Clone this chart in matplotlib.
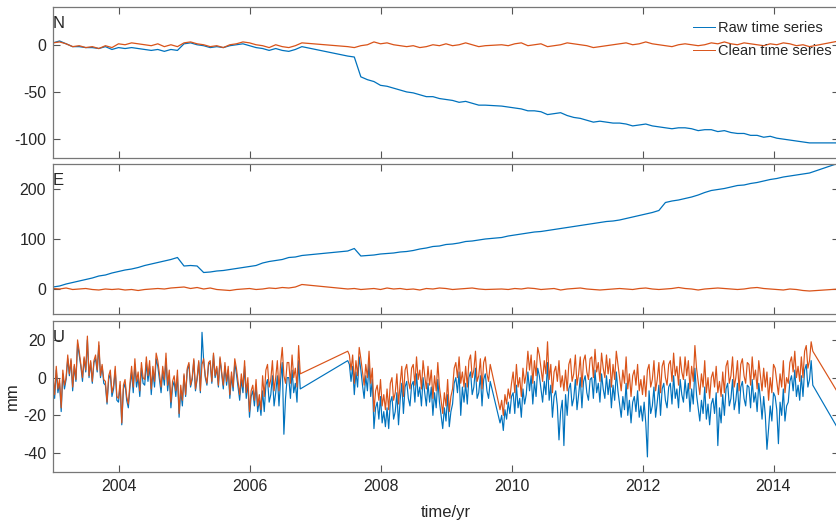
import numpy as np
import matplotlib
matplotlib.use("Agg")
import matplotlib.pyplot as plt

plt.rcParams['font.family'] = ['Liberation Sans', 'DejaVu Sans']
plt.rcParams['axes.unicode_minus'] = False

# observation spans (start, stop, samples); data gaps are bridged by straight lines
ne_segments = [(2003.0, 2006.8, 39), (2007.5, 2009.6, 22), (2009.85, 2014.55, 48)]
u_segments = [(2003.0, 2006.775, 152), (2007.5, 2009.675, 88), (2009.825, 2014.6, 192)]
t_end = 2015.0

# North component (mm)
n_raw = [2, 4, 1, -2, -2, -3, -3, -4, -2, -5,
         -3, -4, -3, -4, -5, -6, -5, -7, -5, -6,
         1, 2, 0, -1, -3, -2, -3, -1, 0, 1,
         -1, -3, -4, -6, -4, -6, -7, -5, -2,
         -12, -13, -34, -37, -39, -43, -44, -46, -48, -50, -51,
         -53, -55, -55, -57, -58, -59, -61, -60, -62, -64, -64,
         -65, -66, -67, -68, -70, -70, -71, -74, -73, -72,
         -75, -77, -78, -80, -82, -81, -82, -83, -83, -84,
         -86, -85, -84, -86, -87, -88, -89, -88, -88, -89,
         -91, -90, -90, -92, -91, -93, -94, -94, -96, -96,
         -98, -97, -99, -100, -101, -102, -103, -104,
         -104]
n_clean = [2, 3, 1, -2, -1, -3, -2, -4, -1, -3,
           1, 0, 2, 1, 0, -1, 1, -2, 0, -2,
           2, 3, 1, 0, -2, -1, -3, 0, 1, 3,
           2, 0, -1, -3, 0, -2, -3, -1, 2,
           -2, -3, -1, 0, 3, 1, 2, 0, -1, -2, -1,
           -3, -2, 0, -1, 1, -1, 0, 2, 0, -2, -1,
           0, -1, 1, 2, -1, 0, 1, -2, -1, 0,
           2, 1, 0, -1, -3, -2, -1, 0, 1, 2,
           0, 1, 3, 1, 0, -1, -2, 0, 1, 0,
           -1, 0, 2, 1, 3, 1, 0, 2, 1, 0,
           -1, 1, 0, 2, 1, -1, 0, -2,
           4]

# East component (mm)
e_raw = [4, 6, 10, 13, 16, 19, 22, 26, 28, 32,
         35, 38, 40, 43, 47, 50, 53, 56, 59, 63,
         46, 47, 46, 33, 34, 36, 37, 39, 41, 43,
         45, 47, 52, 55, 57, 59, 63, 64, 67,
         76, 81, 66, 67, 68, 70, 71, 72, 74, 75, 77,
         80, 82, 85, 86, 89, 90, 92, 95, 96, 98, 100,
         103, 106, 108, 110, 112, 114, 115, 117, 119, 121,
         123, 125, 127, 129, 131, 133, 135, 136, 138, 141,
         144, 147, 150, 153, 157, 173, 176, 178, 181, 184,
         188, 193, 197, 199, 201, 204, 207, 208, 211, 213,
         216, 219, 221, 224, 226, 228, 230, 232,
         252]
e_clean = [1, 0, 2, -1, 0, 1, -1, -2, 0, -1,
           0, -2, -1, -3, -1, 0, 1, 0, 2, 3,
           4, 1, 3, 0, 2, -1, -2, -3, -1, 0,
           1, -1, 0, 2, 1, 3, 2, 4, 9,
           0, 1, -1, 0, 1, -1, 2, 0, 1, -1, 0,
           -2, 1, 0, 2, 1, -1, 0, 1, 2, 0, -1,
           0, -1, 1, 0, 2, 1, -1, 0, 1, -2,
           0, 1, 2, 0, -1, -2, -1, 0, 1, 0,
           -1, 1, 2, 0, -1, 0, 1, 3, 1, 0,
           -2, 0, 1, 2, 1, 0, -1, 0, 2, 3,
           1, 0, -1, -2, 0, -1, -3, -4,
           0]

# Up component (mm), 8 samples per row
u_raw = [0, -11, 4, -8, -3, -18, 2, -6,
         -1, 10, 1, 9, -7, 6, -2, 18,
         12, 6, -2, 10, 3, 20, 0, 8,
         -3, 8, 10, 3, 17, 0, 6, -3,
         -4, -14, -1, 2, -10, -6, 4, -12,
         -13, -4, -25, -6, -3, -12, -16, -5,
         3, -8, 7, -5, 0, -10, 5, -3,
         -4, 8, -2, 6, -9, 3, -5, 10,
         6, -1, -8, 3, -4, 10, -7, 1,
         -16, -5, -2, -10, 1, -21, -7, -15,
         1, -10, 4, 7, -5, -1, 9, -7,
         -1, 8, -8, 24, 9, 0, -4, 7,
         8, -3, 12, 0, 5, -5, 10, 2,
         -6, 6, -4, 4, -11, 1, -7, 8,
         2, -5, -12, -1, -8, 6, -11, -3,
         -21, -10, -7, -15, -4, -18, -12, -20,
         -7, -18, -4, -1, -13, -9, 1, -15,
         -8, 1, -15, -1, 8, -30, -11, 0,
         0, -11, 4, -8, -3, -13, 9, -6,
         # 2007.5 - 2009.675
         9, 7, -2, 6, -9, 3, -5, 11,
         4, -4, -11, 1, -7, 8, -10, -1,
         -27, -16, -13, -22, -10, -24, -18, -26,
         -16, -27, -13, -10, -22, -18, -8, -25,
         -12, -3, -19, -5, -2, -11, -15, -4,
         -2, -13, 2, -10, -5, -15, 0, -8,
         -15, -3, -13, -5, -20, -8, -16, -1,
         -13, -20, -27, -16, -23, -9, -26, -18,
         -14, -3, 0, -8, 3, -20, -5, -13,
         -3, -14, 0, 3, -9, -5, 5, -11,
         -8, 1, -15, -1, 2, -7, -11, -2,
         # 2009.825 - 2014.6
         -24, -20, -28, -17, -22, -13, -19, -10,
         -8, -19, -4, -16, -11, -21, -6, -14,
         -9, 3, -7, 1, -14, -2, -10, 5,
         1, -6, -13, -2, -9, 8, -12, -4,
         -21, -10, -7, -15, -33, -18, -12, -36,
         -9, -20, -6, -3, -15, -11, -1, -17,
         -9, 0, -16, -2, 1, -8, -12, -1,
         0, -11, 4, -8, -3, -13, 2, -6,
         -11, 1, -9, -1, -16, -4, -12, 3,
         -7, -14, -21, -10, -17, -3, -20, -12,
         -24, -13, -10, -18, -7, -21, -15, -23,
         -13, -24, -42, -7, -19, -15, -5, -21,
         -13, -4, -20, -6, -3, -12, -16, -5,
         -3, -14, 1, -11, -6, -16, -1, -9,
         -13, -1, -11, -3, -18, -6, -14, 5,
         -9, -16, -23, -12, -19, -5, -22, -14,
         -25, -14, -11, -19, -8, -36, -16, -24,
         -9, -20, -6, -3, -15, -11, -1, -17,
         -12, -3, -19, -5, -2, -11, -15, -4,
         -5, -16, -1, -13, -8, -18, -3, -11,
         -22, -10, -20, -38, -27, -15, -23, -8,
         -10, -17, -35, -13, -20, -6, -23, -15,
         -13, -2, 1, -7, 4, -10, -4, -12,
         1, -10, 4, 7, -5, -1, 9, -4,
         -28]
u_clean = [2, -9, 6, -6, -1, -16, 4, -4,
           0, 12, 2, 10, -5, 7, -1, 20,
           14, 7, 0, 11, 4, 22, 1, 9,
           -2, 9, 12, 4, 19, 1, 7, -1,
           -2, -13, 1, 4, -8, -4, 6, -10,
           -11, -2, -24, -4, -1, -10, -14, -3,
           6, -5, 10, -2, 3, -7, 8, 0,
           -1, 11, 1, 9, -6, 6, -2, 13,
           9, 2, -5, 6, -1, 13, -4, 4,
           -13, -2, 1, -7, 4, -19, -4, -12,
           2, -9, 5, 8, -4, 0, 10, -6,
           0, 9, -7, 7, 10, 1, -3, 8,
           9, -2, 13, 1, 6, -4, 11, 3,
           -4, 8, -2, 6, -9, 3, -5, 10,
           5, -2, -9, 2, -5, 9, -8, 0,
           -18, -7, -4, -12, -1, -15, -9, -17,
           1, -10, 4, 7, -5, -1, 9, -7,
           0, 9, -7, 7, 16, 1, -3, 8,
           8, -3, 12, 0, 5, -5, 17, 2,
           # 2007.5 - 2009.675
           14, 12, 4, 12, -3, 9, 1, 16,
           10, 3, -4, 7, 0, 14, -3, 5,
           -18, -7, -4, -12, -1, -15, -9, -17,
           -6, -17, -3, 0, -12, -8, 2, -14,
           -3, 6, -10, 4, 7, -2, -6, 5,
           7, -4, 11, -1, 4, -6, 9, 1,
           -6, 6, -4, 4, -11, 1, -7, 8,
           -5, -12, -19, -8, -15, -1, -18, -10,
           -6, 5, 8, 0, 11, -3, 3, -5,
           6, -5, 9, 12, 0, 4, 14, -2,
           1, 10, -6, 8, 11, 2, -2, 7,
           # 2009.825 - 2014.6
           -17, -12, -20, -9, -14, -6, -11, -3,
           3, -8, 7, -5, 0, -10, 5, -3,
           2, 14, 4, 12, -3, 9, 1, 16,
           12, 5, -2, 9, 2, 19, -1, 7,
           -8, 3, 6, -2, 9, -5, 1, -7,
           4, -7, 7, 10, -2, 2, 12, -4,
           2, 11, -5, 9, 12, 3, -1, 10,
           11, 0, 15, 3, 8, -2, 13, 5,
           0, 12, 2, 10, -5, 7, -1, 14,
           7, 0, -7, 4, -3, 11, -6, 2,
           -10, 1, 4, -4, 7, -7, -1, -9,
           1, -10, 4, 7, -5, -1, 9, -7,
           -1, 8, -8, 6, 9, 0, -4, 7,
           9, -2, 13, 1, 6, -4, 11, 3,
           -1, 11, 1, 9, -6, 6, -2, 17,
           5, -2, -9, 2, -5, 9, -8, 0,
           -11, 0, 3, -5, 6, -8, -2, -10,
           3, -8, 6, 9, -3, 1, 11, -5,
           0, 9, -7, 7, 10, 1, -3, 8,
           7, -4, 11, -1, 4, -6, 9, 1,
           -7, 5, -5, 3, -12, 0, -8, 7,
           5, -2, -9, 2, -5, 9, -8, 0,
           -3, 8, 11, 3, 14, 0, 6, -2,
           11, 0, 14, 17, 5, 9, 19, 14,
           -9]

components = ['N', 'E', 'U']
y_limits = [(-120, 40), (-50, 250), (-50, 30)]
y_ticks = [[-100, -50, 0], [0, 100, 200], [-40, -20, 0, 20]]
x_ticks = [2004, 2006, 2008, 2010, 2012, 2014]

BLUE = '#0072BD'
ORANGE = '#D95319'
INK = '#262626'


def time_axis(segments, end):
    parts = [np.linspace(a, b, n) for a, b, n in segments]
    return np.concatenate(parts + [np.array([end])])


t_ne = time_axis(ne_segments, t_end)
t_u = time_axis(u_segments, t_end)
series = [(t_ne, n_raw, n_clean), (t_ne, e_raw, e_clean), (t_u, u_raw, u_clean)]

fig = plt.figure(figsize=(8.37, 5.26), dpi=100)
W, H = 837, 526
# panel boxes in pixels: top, bottom
boxes = [(7, 158), (164, 314), (321, 472)]
left_px, right_px = 53, 839

axes = []
for k, (top, bot) in enumerate(boxes):
    ax = fig.add_axes([left_px / W, (H - bot) / H, (right_px - left_px) / W, (bot - top) / H])
    t, raw, clean = series[k]
    lw = 0.85 if k == 2 else 0.9
    ax.plot(t, raw, color=BLUE, lw=lw, label='Raw time series')
    ax.plot(t, clean, color=ORANGE, lw=lw, label='Clean time series')
    ax.set_xlim(2003.0, 2015.0)
    ax.set_ylim(*y_limits[k])
    ax.set_yticks(y_ticks[k])
    ax.set_xticks(x_ticks)
    ax.tick_params(direction='in', length=5, width=0.8, top=True, right=True,
                   colors='#555555', labelcolor=INK, labelsize=11.5, pad=5)
    for s in ax.spines.values():
        s.set_color('#777777')
        s.set_linewidth(0.9)
    ax.text(0.0, 0.94, components[k], transform=ax.transAxes, ha='left', va='top',
            fontsize=12, color=INK)
    if k < 2:
        ax.tick_params(labelbottom=False)
    axes.append(ax)

leg = axes[0].legend(loc='upper right', bbox_to_anchor=(0.99, 0.905), frameon=False,
                     fontsize=10.5, handlelength=1.5, handletextpad=0.2, borderpad=0,
                     borderaxespad=0, labelspacing=0.6, labelcolor=INK)
for h in leg.get_lines():
    h.set_linewidth(0.7)
axes[2].set_ylabel('mm', fontsize=12, color=INK, labelpad=2)
axes[2].set_xlabel('time/yr', fontsize=12, color=INK, labelpad=8)

fig.savefig('out.png', dpi=100)
